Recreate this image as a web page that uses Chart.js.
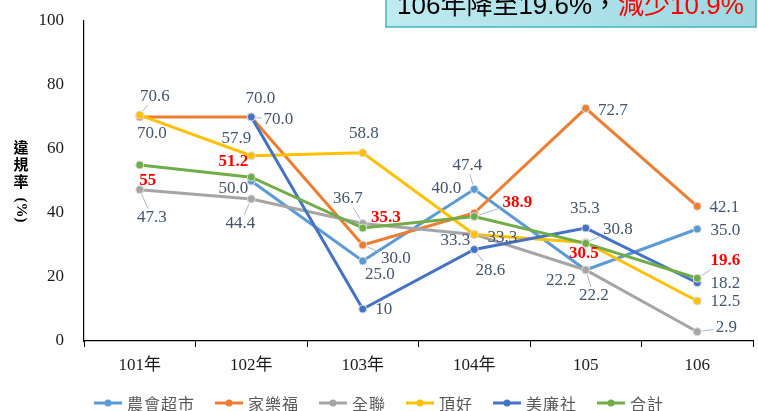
<!DOCTYPE html>
<html lang="zh-Hant">

<head>
    <meta charset="UTF-8">
    <title>違規率</title>
    <style>
        body {
            margin: 0;
            background: #ffffff;
        }

        #chartBox {
            width: 758px;
            height: 411px;
        }
    </style>
</head>

<body>

    <script src="https://cdn.jsdelivr.net/npm/chart.js"></script>

    <div id="chartBox">
        <canvas id="rateChart" width="758" height="411"></canvas>
    </div>

    <script>
        // categories + series (違規率 %)
        const years = ['101年', '102年', '103年', '104年', '105', '106'];
        const farmers = [null, 50.0, 25.0, 47.4, 22.2, 35.0];     // 農會超市
        const carrefour = [70.0, 70.0, 30.0, 40.0, 72.7, 42.1];   // 家樂福
        const pxmart = [47.3, 44.4, 36.7, 33.3, 22.2, 2.9];       // 全聯
        const wellcome = [70.6, 57.9, 58.8, 33.3, 30.8, 12.5];    // 頂好
        const simpleMart = [null, 70.0, 10, 28.6, 35.3, 18.2];    // 美廉社
        const total = [55, 51.2, 35.3, 38.9, 30.5, 19.6];         // 合計
        const yTicks = [0, 20, 40, 60, 80, 100];

        const serif = "'Liberation Serif', 'Times New Roman', 'Noto Sans CJK TC', serif";
        const cjk = "'Noto Sans CJK TC', 'Noto Sans CJK SC', sans-serif";

        // label placement per point: [dx, dy, leader line?]
        const labelPos = [
            [null, [-18, 8], [17, 14], [-7, -24, 1], [-25, 11], [28, 2]],
            [[12, 17], [9, -18], [33, 14, 1], [-28, -24], [27, 2], [27, 1]],
            [[12, 28, 1], [-11, 25, 1], [-15, -25, 1], [28, 3, 1], [8, 26, 1], [29, -4, 1]],
            [[15, -19, 1], [-15, -17], [1, -19], [-19, 6], [32, -13, 1], [28, 1]],
            [null, [27, 3, 1], [21, 1], [16, 21, 1], [-1, -20], [28, 1]],
            [[8, 16], [-18, -16], [23, -10], [43, -14, 1], [-2, 10], [28, -18, 1]]
        ];

        function fmt(v, isTotal) {
            if (isTotal || Number.isInteger(v) && v < 15) return String(v);
            return v.toFixed(1);
        }

        const valueLabels = {
            id: 'valueLabels',
            afterDatasetsDraw(chart) {
                const ctx = chart.ctx;
                ctx.save();
                ctx.textAlign = 'center';
                ctx.textBaseline = 'middle';
                chart.data.datasets.forEach((ds, i) => {
                    const meta = chart.getDatasetMeta(i);
                    const red = ds.label === '合計';
                    ds.data.forEach((v, j) => {
                        if (v === null || !labelPos[i][j]) return;
                        const p = meta.data[j];
                        const [dx, dy, leader] = labelPos[i][j];
                        const txt = fmt(v, red);
                        ctx.font = (red ? 'bold ' : '') + '17px ' + serif;
                        const w = ctx.measureText(txt).width;
                        const cx = p.x + dx, cy = p.y + dy;
                        if (leader) {
                            const len = Math.hypot(dx, dy);
                            const ux = dx / len, uy = dy / len;
                            let t = Infinity;
                            if (ux !== 0) t = Math.min(t, (w / 2 + 2) / Math.abs(ux));
                            if (uy !== 0) t = Math.min(t, 9 / Math.abs(uy));
                            const ex = cx - ux * t, ey = cy - uy * t;
                            const sx = p.x + ux * 5, sy = p.y + uy * 5;
                            if (Math.hypot(ex - sx, ey - sy) > 3) {
                                ctx.strokeStyle = '#a9b7cb';
                                ctx.lineWidth = 1;
                                ctx.beginPath();
                                ctx.moveTo(sx, sy);
                                ctx.lineTo(ex, ey);
                                ctx.stroke();
                            }
                        }
                        ctx.fillStyle = red ? '#ff0000' : '#44546a';
                        ctx.fillText(txt, cx, cy);
                    });
                });
                ctx.restore();
            }
        };

        const decorations = {
            id: 'decorations',
            afterDraw(chart) {
                const ctx = chart.ctx;
                ctx.save();

                // banner at the top right
                const g = ctx.createLinearGradient(386, 0, 756, 27);
                g.addColorStop(0, '#bfeaf0');
                g.addColorStop(1, '#9dd8e1');
                ctx.fillStyle = g;
                ctx.fillRect(386, -10, 370, 37);
                ctx.strokeStyle = '#3fb5c3';
                ctx.lineWidth = 1.5;
                ctx.strokeRect(386, -10, 370, 37);
                ctx.font = "26px 'Liberation Sans', 'Noto Sans CJK TC', sans-serif";
                ctx.textBaseline = 'alphabetic';
                ctx.textAlign = 'left';
                const part1 = '106年降至19.6%，';
                ctx.fillStyle = '#000000';
                ctx.fillText(part1, 397, 14);
                ctx.fillStyle = '#ff0000';
                ctx.fillText('減少10.9%', 397 + ctx.measureText(part1).width, 14);

                // vertical y title
                ctx.fillStyle = '#000000';
                ctx.font = 'bold 15px ' + cjk;
                ctx.textAlign = 'center';
                ctx.textBaseline = 'middle';
                ['違', '規', '率'].forEach((c, k) => ctx.fillText(c, 21, 147 + k * 17));
                ctx.translate(21, 210);
                ctx.rotate(Math.PI / 2);
                ctx.font = 'bold 15px ' + serif;
                ctx.fillText('(%)', 0, 0);
                ctx.restore();

                // legend
                ctx.save();
                ctx.font = '16px ' + cjk;
                ctx.letterSpacing = '1px';
                ctx.textBaseline = 'middle';
                ctx.textAlign = 'left';
                const items = chart.data.datasets.map(ds => ({
                    label: ds.label, color: ds.borderColor, w: ctx.measureText(ds.label).width
                }));
                const total = items.reduce((s, it) => s + 28 + 5 + it.w, 0) + 20 * (items.length - 1);
                let x = (chart.width - total) / 2;
                const y = 403;
                items.forEach(it => {
                    ctx.strokeStyle = it.color;
                    ctx.lineWidth = 3;
                    ctx.beginPath();
                    ctx.moveTo(x, y);
                    ctx.lineTo(x + 28, y);
                    ctx.stroke();
                    ctx.fillStyle = it.color;
                    ctx.beginPath();
                    ctx.arc(x + 14, y, 3.5, 0, Math.PI * 2);
                    ctx.fill();
                    ctx.fillStyle = '#595959';
                    ctx.fillText(it.label, x + 33, y + 1);
                    x += 28 + 5 + it.w + 20;
                });
                ctx.restore();
            }
        };

        function series(label, data, color, order) {
            return {
                label: label,
                data: data,
                borderColor: color,
                backgroundColor: color,
                borderWidth: 3,
                pointRadius: 4,
                pointBorderWidth: 1,
                pointBorderColor: '#dcdcdc',
                pointBackgroundColor: color,
                tension: 0,
                order: order
            };
        }

        const chart = new Chart(document.getElementById('rateChart').getContext('2d'), {
            type: 'line',
            data: {
                labels: years,
                datasets: [
                    series('農會超市', farmers, '#5b9bd5', 5),
                    series('家樂福', carrefour, '#ed7d31', 4),
                    series('全聯', pxmart, '#a5a5a5', 3),
                    series('頂好', wellcome, '#ffc000', 2),
                    series('美廉社', simpleMart, '#4472c4', 1),
                    series('合計', total, '#70ad47', 0)
                ]
            },
            options: {
                responsive: false,
                animation: false,
                devicePixelRatio: 1,
                layout: { padding: { top: 21, right: 0, bottom: 30, left: 0 } },
                plugins: {
                    legend: { display: false },
                    tooltip: { enabled: false }
                },
                scales: {
                    x: {
                        offset: true,
                        grid: {
                            offset: true,
                            drawOnChartArea: false,
                            drawTicks: true,
                            tickLength: 6,
                            color: '#000000'
                        },
                        border: { display: true, color: '#000000', width: 1.2 },
                        ticks: {
                            padding: 8,
                            color: '#1a1a1a',
                            font: { family: serif, size: 17 }
                        },
                        afterFit(scale) { scale.height = 40; }
                    },
                    y: {
                        min: 0,
                        max: 100,
                        afterBuildTicks(scale) { scale.ticks = yTicks.map(v => ({ value: v })); },
                        grid: {
                            drawOnChartArea: false,
                            drawTicks: true,
                            tickLength: 20,
                            tickColor: 'rgba(0,0,0,0)'
                        },
                        border: { display: true, color: '#000000', width: 1.2 },
                        ticks: {
                            padding: 0,
                            color: '#1a1a1a',
                            font: { family: serif, size: 17 }
                        },
                        afterFit(scale) { scale.width = 84; }
                    }
                }
            },
            plugins: [valueLabels, decorations]
        });
    </script>

</body>

</html>
